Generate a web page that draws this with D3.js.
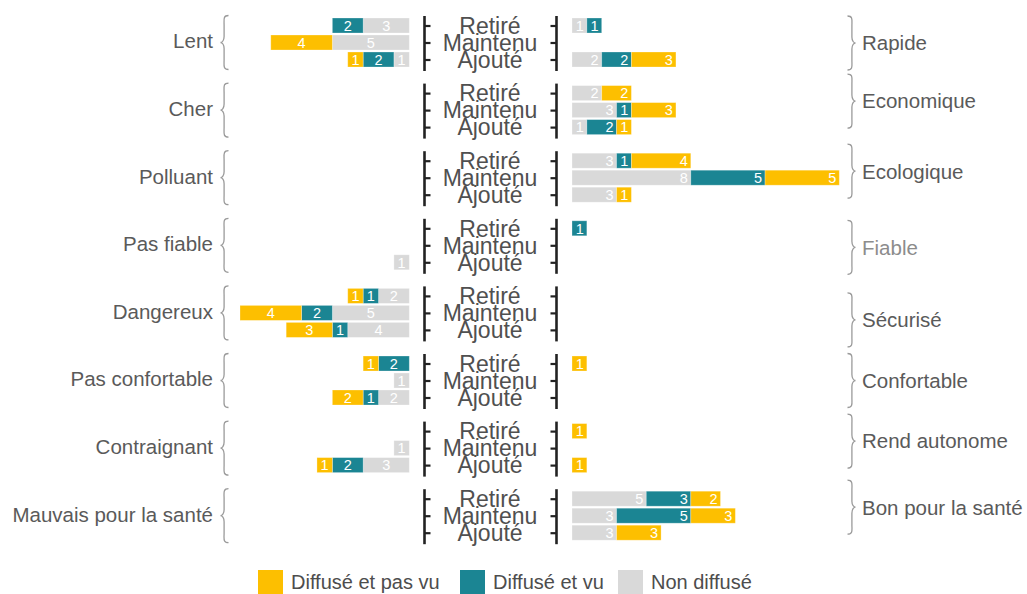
<!DOCTYPE html>
<html>
<head>
<meta charset="utf-8">
<script src="https://cdn.jsdelivr.net/npm/d3@7"></script>
<style>
  html, body { margin: 0; padding: 0; background: #ffffff; }
  svg { display: block; font-family: "Liberation Sans", Arial, sans-serif; }
</style>
</head>
<body>
<svg id="chart" width="1027" height="594"></svg>
<script>
// Negative attributes (left) and their positive counterparts (right)
const leftCategories = ["Lent", "Cher", "Polluant", "Pas fiable", "Dangereux",
  "Pas confortable", "Contraignant", "Mauvais pour la santé"];
const rightCategories = ["Rapide", "Economique", "Ecologique", "Fiable", "Sécurisé",
  "Confortable", "Rend autonome", "Bon pour la santé"];
const statuses = ["Retiré", "Maintenu", "Ajouté"];
const seriesNames = ["Non diffusé", "Diffusé et vu", "Diffusé et pas vu"];
const legendOrder = ["Diffusé et pas vu", "Diffusé et vu", "Non diffusé"];

// Counts per category, each inner list follows statuses (Retiré, Maintenu, Ajouté)
const leftNonDiffuse = [[3,5,1],[0,0,0],[0,0,0],[0,0,1],[2,5,4],[0,1,2],[0,1,3],[0,0,0]];
const leftDiffuseVu = [[2,0,2],[0,0,0],[0,0,0],[0,0,0],[1,2,1],[2,0,1],[0,0,2],[0,0,0]];
const leftDiffusePasVu = [[0,4,1],[0,0,0],[0,0,0],[0,0,0],[1,4,3],[1,0,2],[0,0,1],[0,0,0]];

const rightNonDiffuse = [[1,0,2],[2,3,1],[3,8,3],[0,0,0],[0,0,0],[0,0,0],[0,0,0],[5,3,3]];
const rightDiffuseVu = [[1,0,2],[0,1,2],[1,5,0],[1,0,0],[0,0,0],[0,0,0],[0,0,0],[3,5,0]];
const rightDiffusePasVu = [[0,0,3],[2,3,1],[4,5,1],[0,0,0],[0,0,0],[1,0,0],[1,0,1],[2,3,3]];

const colors = {
  "Non diffusé": "#d9d9d9",
  "Diffusé et vu": "#1b8593",
  "Diffusé et pas vu": "#fdbf00"
};

// Vertical shift (px) of each right-hand brace relative to its row group
const rightBraceShift = [0.5, -9, -6.5, 2, 7, 0, -7, -8.5];
const mutedRight = ["Fiable"];

const svg = d3.select("#chart");

// Group bands and status rows within a group
const yGroup = d3.scaleBand()
  .domain(d3.range(leftCategories.length))
  .range([8.7, 8.7 + 67.6 * leftCategories.length])
  .padding(0);
const yRow = d3.scaleBand()
  .domain(statuses)
  .range([-25.5, 25.5])
  .paddingInner(2 / 17)
  .paddingOuter(1 / 17);
const groupCenter = i => yGroup(i) + yGroup.bandwidth() / 2;

// Horizontal scales: left bars grow leftwards from the centre, right bars rightwards
const xLeft = d3.scaleLinear().domain([0, 11]).range([409.3, 240]);
const xRight = d3.scaleLinear().domain([0, 18]).range([572, 839.3]);

function stackRows(nd, dv, dpv) {
  const rows = [];
  nd.forEach((g, gi) => {
    statuses.forEach((s, si) => {
      const vals = [nd[gi][si], dv[gi][si], dpv[gi][si]];
      let acc = 0;
      vals.forEach((v, k) => {
        if (v > 0) rows.push({ g: gi, status: s, series: seriesNames[k], x0: acc, x1: acc + v, v });
        acc += v;
      });
    });
  });
  return rows;
}

const leftSegs = stackRows(leftNonDiffuse, leftDiffuseVu, leftDiffusePasVu);
const rightSegs = stackRows(rightNonDiffuse, rightDiffuseVu, rightDiffusePasVu);

const rowTop = d => groupCenter(d.g) + yRow(d.status);

// Left bars
const gl = svg.append("g");
gl.selectAll("rect").data(leftSegs).join("rect")
  .attr("x", d => xLeft(d.x1))
  .attr("y", rowTop)
  .attr("width", d => xLeft(d.x0) - xLeft(d.x1))
  .attr("height", yRow.bandwidth())
  .attr("fill", d => colors[d.series])
  .attr("stroke", "#ffffff").attr("stroke-opacity", 0.35).attr("stroke-width", 0.8);
gl.selectAll("text").data(leftSegs).join("text")
  .attr("x", d => (xLeft(d.x0) + xLeft(d.x1)) / 2)
  .attr("y", d => rowTop(d) + yRow.bandwidth() / 2)
  .attr("dy", "0.36em")
  .attr("text-anchor", "middle")
  .attr("fill", "#ffffff")
  .attr("font-size", 14.5)
  .text(d => d.v);

// Right bars
const gr = svg.append("g");
gr.selectAll("rect").data(rightSegs).join("rect")
  .attr("x", d => xRight(d.x0))
  .attr("y", rowTop)
  .attr("width", d => xRight(d.x1) - xRight(d.x0))
  .attr("height", yRow.bandwidth())
  .attr("fill", d => colors[d.series])
  .attr("stroke", "#ffffff").attr("stroke-opacity", 0.35).attr("stroke-width", 0.8);
gr.selectAll("text").data(rightSegs).join("text")
  .attr("x", d => xRight(d.x1) - 3)
  .attr("y", d => rowTop(d) + yRow.bandwidth() / 2)
  .attr("dy", "0.36em")
  .attr("text-anchor", "end")
  .attr("fill", "#ffffff")
  .attr("font-size", 14.5)
  .text(d => d.v);

// Centre status axes, one pair per group
leftCategories.forEach((c, gi) => {
  const gc = groupCenter(gi);
  const inner = d3.scalePoint().domain(statuses)
    .range([gc + yRow("Retiré") + yRow.bandwidth() / 2, gc + yRow("Ajouté") + yRow.bandwidth() / 2]);
  const axL = svg.append("g").attr("transform", "translate(424.5,0)")
    .call(d3.axisRight(inner).tickSize(6).tickFormat(""));
  const axR = svg.append("g").attr("transform", "translate(556.5,0)")
    .call(d3.axisLeft(inner).tickSize(6).tickFormat(""));
  [axL, axR].forEach(ax => {
    ax.select(".domain").remove();
    ax.selectAll(".tick line").attr("stroke", "#222").attr("stroke-width", 2.2);
    ax.append("line").attr("x1", 0).attr("x2", 0)
      .attr("y1", gc - 26.5).attr("y2", gc + 28.5)
      .attr("stroke", "#222").attr("stroke-width", 2.6);
  });
  svg.append("g").selectAll("text").data(statuses).join("text")
    .attr("x", 490)
    .attr("y", s => inner(s))
    .attr("dy", "0.36em")
    .attr("text-anchor", "middle")
    .attr("font-size", 23)
    .attr("fill", "#505050")
    .text(s => s);
});

// Curly brace path, centred at (0,0), opening to the right when dir = 1
function bracePath(h, w, dir) {
  const hh = h / 2, q = dir * w;
  return `M ${q} ${-hh} C ${q * 0.3} ${-hh} ${q * 0.45} ${-hh + 4} ${q * 0.45} ${-hh + 10}` +
    ` L ${q * 0.45} ${-6} C ${q * 0.45} ${-2} ${q * 0.2} 0 0 0` +
    ` C ${q * 0.2} 0 ${q * 0.45} 2 ${q * 0.45} 6` +
    ` L ${q * 0.45} ${hh - 10} C ${q * 0.45} ${hh - 4} ${q * 0.3} ${hh} ${q} ${hh}`;
}

// Left labels with braces
leftCategories.forEach((c, gi) => {
  const gc = groupCenter(gi);
  svg.append("path")
    .attr("d", bracePath(54, 8, 1))
    .attr("transform", `translate(220.5,${gc})`)
    .attr("fill", "none").attr("stroke", "#9a9a9a").attr("stroke-width", 1.3);
  svg.append("text")
    .attr("x", 213).attr("y", gc - 1.5)
    .attr("dy", "0.36em")
    .attr("text-anchor", "end")
    .attr("font-size", 20.5)
    .attr("fill", "#5a5a5a")
    .text(c);
});

// Right labels with braces
rightCategories.forEach((c, gi) => {
  const gc = groupCenter(gi) + rightBraceShift[gi];
  svg.append("path")
    .attr("d", bracePath(54, 8, -1))
    .attr("transform", `translate(855.5,${gc})`)
    .attr("fill", "none").attr("stroke", "#9a9a9a").attr("stroke-width", 1.3);
  svg.append("text")
    .attr("x", 862).attr("y", gc)
    .attr("dy", "0.36em")
    .attr("text-anchor", "start")
    .attr("font-size", 20.5)
    .attr("fill", mutedRight.includes(c) ? "#8c8c8c" : "#5a5a5a")
    .text(c);
});

// Legend
const legendX = [258, 460, 618];
const lg = svg.append("g");
legendOrder.forEach((name, i) => {
  lg.append("rect")
    .attr("x", legendX[i]).attr("y", 570)
    .attr("width", 25).attr("height", 25)
    .attr("fill", colors[name]);
  lg.append("text")
    .attr("x", legendX[i] + 33).attr("y", 582)
    .attr("dy", "0.36em")
    .attr("font-size", 20)
    .attr("fill", "#4d4d4d")
    .text(name);
});
</script>
</body>
</html>
